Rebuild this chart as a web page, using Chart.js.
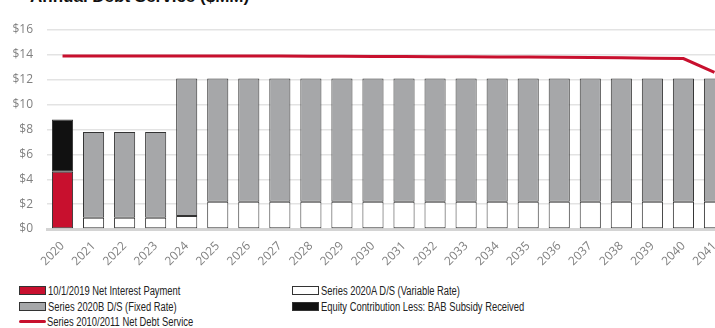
<!DOCTYPE html>
<html>
<head>
<meta charset="utf-8">
<script src="https://cdn.jsdelivr.net/npm/chart.js@4.4.0/dist/chart.umd.min.js"></script>
<style>
  body { margin: 0; width: 715px; height: 328px; overflow: hidden; background: #fff; position: relative; font-family: "Liberation Sans", sans-serif; }
  #title { position: absolute; left: 30px; top: -13px; font: bold 17px "Liberation Sans", sans-serif; color: #111; }
  #wrap { position: absolute; left: 0; top: 0; width: 730px; height: 273px; }
  .lg { position: absolute; font-size: 12.5px; color: #222; white-space: nowrap; line-height: 14px; }
  .lg span.t { display: inline-block; transform: scaleX(0.75); transform-origin: left center; }
  .sw { display: inline-block; width: 25px; height: 7px; border: 1px solid #333; vertical-align: middle; margin-right: 2px; position: relative; top: -1px; }
  .ln { display: inline-block; width: 27px; height: 3px; background: #c8102e; vertical-align: middle; margin-right: 1px; position: relative; top: -1px; border-radius: 2px; }
</style>
</head>
<body>
<div id="title">Annual Debt Service ($MM)</div>
<div id="wrap"><canvas id="canvas"></canvas></div>
<div class="lg" style="left:19px; top:284px;"><span class="sw" style="background:#c8102e"></span><span class="t">10/1/2019 Net Interest Payment</span></div>
<div class="lg" style="left:19px; top:300px;"><span class="sw" style="background:#a6a7a9"></span><span class="t">Series 2020B D/S (Fixed Rate)</span></div>
<div class="lg" style="left:19px; top:315px;"><span class="ln"></span><span class="t">Series 2010/2011 Net Debt Service</span></div>
<div class="lg" style="left:292px; top:284px;"><span class="sw" style="background:#fff"></span><span class="t">Series 2020A D/S (Variable Rate)</span></div>
<div class="lg" style="left:292px; top:300px;"><span class="sw" style="background:#111"></span><span class="t">Equity Contribution Less: BAB Subsidy Received</span></div>
<script>
const years = ['2020','2021','2022','2023','2024','2025','2026','2027','2028','2029','2030',
  '2031','2032','2033','2034','2035','2036','2037','2038','2039','2040','2041'];
const yTicks = [0, 2, 4, 6, 8, 10, 12, 14, 16];

const netInterest = [4.6, null, null, null, null, null, null, null, null, null, null,
  null, null, null, null, null, null, null, null, null, null, null];
const series2020A = [null, 0.9, 0.9, 0.9, 1.05, 2.2, 2.2, 2.2, 2.2, 2.2, 2.2,
  2.2, 2.2, 2.2, 2.2, 2.2, 2.2, 2.2, 2.2, 2.2, 2.2, 2.2];
const series2020B = [null, 6.9, 6.9, 6.9, 11.05, 9.9, 9.9, 9.9, 9.9, 9.9, 9.9,
  9.9, 9.9, 9.9, 9.9, 9.9, 9.9, 9.9, 9.9, 9.9, 9.9, 9.9];
const equityContribution = [4.2, null, null, null, null, null, null, null, null, null, null,
  null, null, null, null, null, null, null, null, null, null, null];
const netDebtService = [13.9, 13.9, 13.9, 13.9, 13.9, 13.9, 13.9, 13.9, 13.88, 13.88, 13.87,
  13.86, 13.85, 13.84, 13.83, 13.82, 13.8, 13.78, 13.76, 13.73, 13.7, 12.6];

const tickFont = { family: '"Open Sans", sans-serif', size: 12 };
const barStyle = { borderColor: '#333', borderWidth: 1, borderSkipped: false, stack: 'bars', barPercentage: 0.68, categoryPercentage: 1 };

const data = {
  labels: years,
  datasets: [
    { type: 'line', label: 'Series 2010/2011 Net Debt Service', data: netDebtService, borderColor: '#c8102e',
      borderWidth: 3, pointRadius: 0, stack: 'line', order: 0, tension: 0 },
    Object.assign({ label: '10/1/2019 Net Interest Payment', data: netInterest, backgroundColor: '#c8102e', order: 1 }, barStyle),
    Object.assign({ label: 'Series 2020A D/S (Variable Rate)', data: series2020A, backgroundColor: '#ffffff', order: 1 }, barStyle),
    Object.assign({ label: 'Series 2020B D/S (Fixed Rate)', data: series2020B, backgroundColor: '#a6a7a9', order: 1 }, barStyle),
    Object.assign({ label: 'Equity Contribution Less: BAB Subsidy Received', data: equityContribution, backgroundColor: '#111111', order: 1 }, barStyle)
  ]
};

const config = {
  type: 'bar',
  data: data,
  options: {
    responsive: true,
    maintainAspectRatio: false,
    animation: false,
    layout: { padding: { top: 30, right: 0, left: 0, bottom: 0 } },
    plugins: { legend: { display: false }, tooltip: { enabled: false } },
    scales: {
      x: {
        stacked: true,
        afterFit: (axis) => { axis.height = 44; },
        grid: { display: false },
        border: { color: '#d4d4d4', width: 3 },
        ticks: { color: '#808080', font: tickFont, maxRotation: 45, minRotation: 45, autoSkip: false, padding: 2 }
      },
      y: {
        stacked: true,
        min: 0, max: 16,
        afterFit: (axis) => { axis.width = 47; },
        afterBuildTicks: (axis) => { axis.ticks = yTicks.map(v => ({ value: v })); },
        grid: { color: '#e3e3e3', lineWidth: 1.5, drawTicks: false },
        border: { display: false },
        ticks: { color: '#808080', padding: 14, font: tickFont, callback: (v) => '$' + v }
      }
    }
  }
};
const canvas = document.getElementById('canvas');
const chart = new Chart(canvas, config);
</script>
</body>
</html>
